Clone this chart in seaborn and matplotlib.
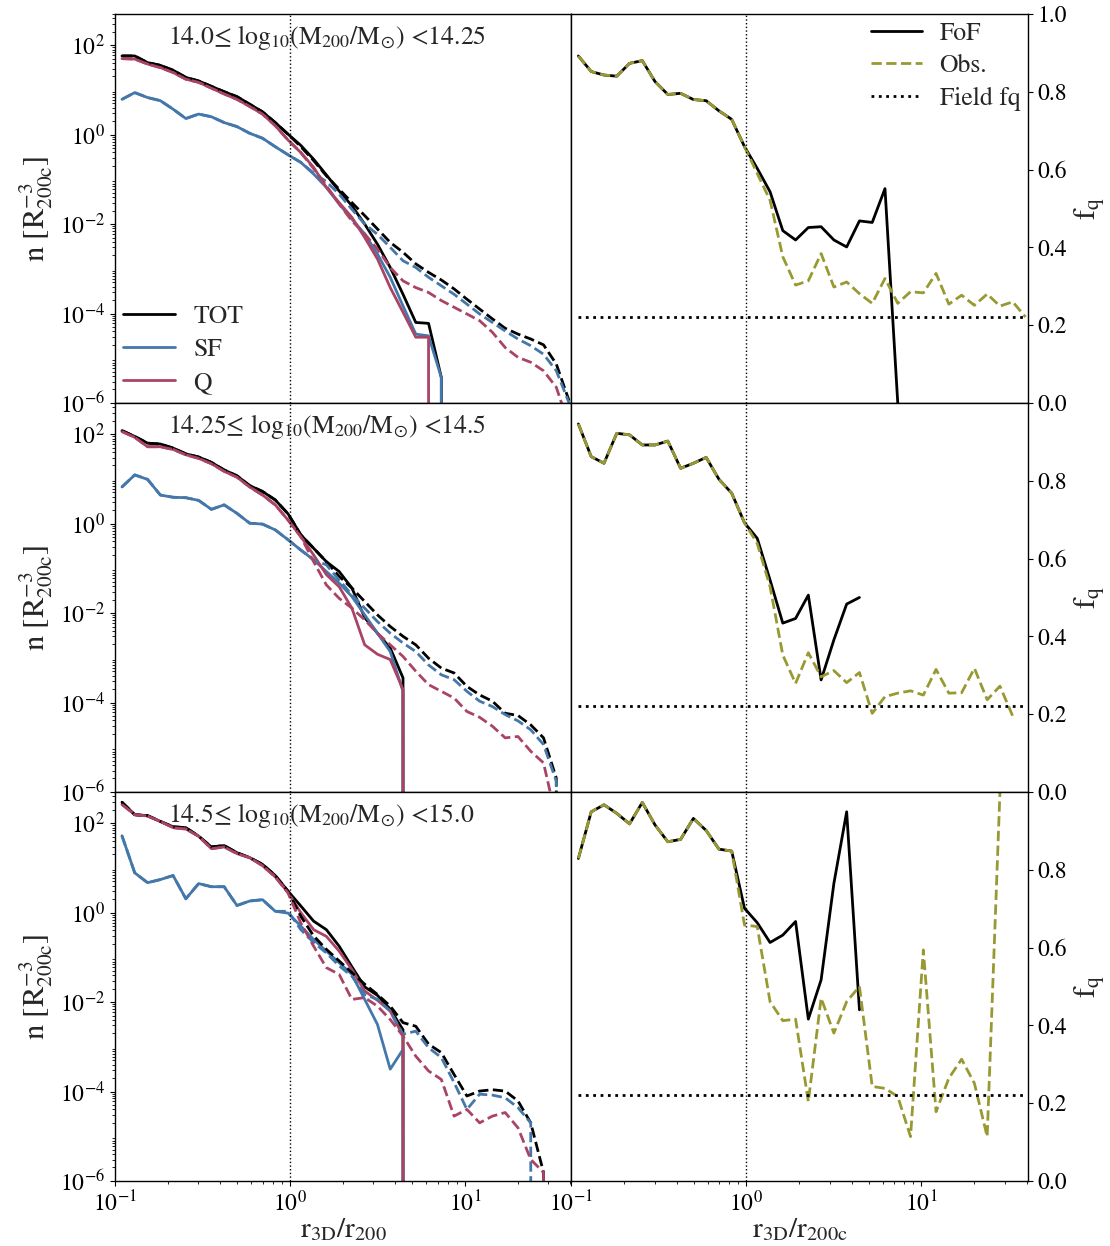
import numpy as np
import pandas as pd
import matplotlib
matplotlib.use("Agg")
import matplotlib.pyplot as plt
import seaborn as sns

Z = -np.inf   # zero density (line drops below the axis)
N = np.nan    # no data

# radial bin centres (r / r200)
r_bins = [0.1096, 0.1297, 0.1535, 0.1816, 0.2148, 0.2541, 0.3006, 0.3556, 0.4207,
          0.4977, 0.5888, 0.6966, 0.8241, 0.9750, 1.153, 1.365, 1.614, 1.910,
          2.259, 2.673, 3.162, 3.741, 4.426, 5.236, 6.194, 7.328, 8.670, 10.26,
          12.13, 14.35, 16.98, 20.09, 23.77, 28.12, 33.27, 39.36]

mass_bins = [r"14.0≤ log$_{10}$(M$_{200}$/M$_{\odot}$) <14.25",
             r"14.25≤ log$_{10}$(M$_{200}$/M$_{\odot}$) <14.5",
             r"14.5≤ log$_{10}$(M$_{200}$/M$_{\odot}$) <15.0"]

# ---- log10 number density, row 1 ----
tot_fof_r1 = [1.76, 1.76, 1.61, 1.55, 1.44, 1.28, 1.20, 1.08, 0.96, 0.85, 0.68, 0.51, 0.27,
              0.01, -0.24, -0.55, -0.90, -1.26, -1.59, -2.00, -2.45, -2.97, -3.57, -4.20,
              -4.22, -5.43, Z, N, N, N, N, N, N, N, N, N]
sf_fof_r1 = [0.79, 0.94, 0.83, 0.76, 0.57, 0.36, 0.46, 0.40, 0.27, 0.18, 0.03, -0.08, -0.27,
             -0.45, -0.62, -0.88, -1.18, -1.55, -1.89, -2.22, -2.67, -3.19, -3.83, -4.46,
             -4.50, -5.43, Z, N, N, N, N, N, N, N, N, N]
q_fof_r1 = [1.70, 1.69, 1.58, 1.50, 1.39, 1.24, 1.17, 1.04, 0.91, 0.79, 0.63, 0.46, 0.20,
            -0.12, -0.40, -0.73, -1.18, -1.52, -1.85, -2.30, -2.78, -3.42, -3.97, -4.53,
            -4.53, Z, N, N, N, N, N, N, N, N, N, N]
tot_obs_r1 = tot_fof_r1[:14] + [-0.27, -0.58, -0.92, -1.22, -1.52, -1.81, -2.11, -2.41, -2.63,
                                -2.89, -3.08, -3.25, -3.45, -3.68, -3.90, -4.12, -4.33, -4.46,
                                -4.57, -4.70, -5.13, -5.95]
sf_obs_r1 = sf_fof_r1[:15] + [-0.86, -1.05, -1.33, -1.67, -2.00, -2.23, -2.52, -2.82, -2.97,
                              -3.19, -3.38, -3.57, -3.79, -4.01, -4.20, -4.39, -4.57, -4.72,
                              -4.91, -5.28, -6.00]
q_obs_r1 = q_fof_r1[:15] + [-0.76, -1.14, -1.55, -1.93, -2.22, -2.56, -2.97, -3.27, -3.42,
                            -3.53, -3.71, -3.86, -4.01, -4.16, -4.42, -4.76, -4.98, -5.09,
                            -5.28, -5.65, -6.50]

# ---- row 2 ----
tot_fof_r2 = [2.08, 1.95, 1.80, 1.78, 1.69, 1.56, 1.49, 1.37, 1.20, 1.07, 0.85, 0.72, 0.53,
              0.22, -0.25, -0.55, -0.85, -1.07, -1.44, -2.10, -2.45, -2.78, -3.45, Z,
              N, N, N, N, N, N, N, N, N, N, N, N]
sf_fof_r2 = [0.82, 1.09, 0.99, 0.64, 0.59, 0.58, 0.52, 0.32, 0.42, 0.23, 0.01, -0.01, -0.14,
             -0.36, -0.59, -0.81, -1.07, -1.33, -1.63, -2.04, -2.45, -2.86, -3.75, Z,
             N, N, N, N, N, N, N, N, N, N, N, N]
q_fof_r2 = [2.06, 1.93, 1.72, 1.72, 1.66, 1.54, 1.46, 1.34, 1.17, 1.04, 0.82, 0.64, 0.42,
            0.08, -0.29, -0.70, -1.14, -1.41, -1.89, -2.71, -2.92, -3.04, -3.71, Z,
            N, N, N, N, N, N, N, N, N, N, N, N]
tot_obs_r2 = tot_fof_r2[:15] + [-0.55, -0.85, -1.18, -1.44, -1.74, -2.04, -2.30, -2.52, -2.71,
                                -3.01, -3.23, -3.34, -3.64, -3.83, -3.97, -4.24, -4.29, -4.50,
                                -4.79, -5.69, Z]
sf_obs_r2 = sf_fof_r2[:16] + [-0.92, -1.26, -1.59, -1.89, -2.19, -2.45, -2.67, -2.86, -3.16,
                              -3.38, -3.49, -3.75, -3.97, -4.09, -4.27, -4.41, -4.61, -4.94,
                              -5.76, Z]
q_obs_r2 = q_fof_r2[:15] + [-0.85, -1.37, -1.67, -1.89, -2.15, -2.45, -2.71, -2.97, -3.30,
                            -3.60, -3.75, -3.90, -4.20, -4.33, -4.53, -4.79, -4.76, -5.09,
                            -5.35, -6.60, N]

# ---- row 3 ----
tot_fof_r3 = [2.47, 2.19, 2.17, 2.04, 1.92, 1.90, 1.71, 1.47, 1.50, 1.34, 1.23, 1.08, 0.83,
              0.48, 0.15, -0.19, -0.38, -0.75, -1.21, -1.66, -1.85, -2.16, -2.62, Z,
              N, N, N, N, N, N, N, N, N, N, N, N]
sf_fof_r3 = [1.72, 0.89, 0.67, 0.74, 0.83, 0.31, 0.65, 0.58, 0.58, 0.16, 0.26, 0.29, 0.03,
             -0.01, -0.30, -0.60, -0.86, -1.12, -1.38, -1.94, -2.50, -3.50, -3.06, Z,
             N, N, N, N, N, N, N, N, N, N, N, N]
q_fof_r3 = [2.42, 2.19, 2.16, 2.04, 1.90, 1.87, 1.71, 1.43, 1.47, 1.32, 1.23, 1.05, 0.80,
            0.45, 0.00, -0.38, -0.53, -0.86, -1.27, -1.75, -1.96, -2.20, -2.76, Z,
            N, N, N, N, N, N, N, N, N, N, N, N]
tot_obs_r3 = tot_fof_r3[:14] + [-0.08, -0.52, -0.82, -1.08, -1.34, -1.60, -1.83, -2.09, -2.46,
                                -2.54, -2.94, -3.13, -3.62, -4.10, -3.99, -3.96, -3.99, -4.21,
                                -4.70, -5.81, Z, N]
sf_obs_r3 = sf_fof_r3[:13] + [0.03, -0.38, -0.67, -0.90, -1.19, -1.42, -1.83, -1.94, -2.20,
                              -2.72, -2.65, -3.02, -3.24, -3.80, -4.40, -4.06, -4.08, -4.14,
                              -4.36, -4.70, Z, N, N]
q_obs_r3 = q_fof_r3[:13] + [0.44, -0.23, -0.75, -1.23, -1.38, -1.94, -1.90, -2.09, -2.39,
                            -2.76, -3.21, -3.54, -3.73, -4.55, -4.40, -4.70, -4.55, -4.47,
                            -4.81, -5.52, -5.81, Z, N]

# ---- quenched fractions ----
fq_fof_r1 = [0.892, 0.852, 0.843, 0.840, 0.873, 0.880, 0.826, 0.793, 0.796, 0.780, 0.777,
             0.751, 0.729, 0.659, 0.603, 0.543, 0.443, 0.419, 0.451, 0.453, 0.419, 0.401,
             0.468, 0.464, 0.551, 0.0, N, N, N, N, N, N, N, N, N, N]
fq_obs_r1 = fq_fof_r1[:14] + [0.590, 0.521, 0.376, 0.303, 0.314, 0.384, 0.298, 0.311, 0.281,
                              0.256, 0.320, 0.256, 0.286, 0.283, 0.333, 0.254, 0.277, 0.251,
                              0.280, 0.249, 0.260, 0.221]
fq_fof_r2 = [0.946, 0.862, 0.845, 0.922, 0.918, 0.892, 0.892, 0.902, 0.832, 0.845, 0.860,
             0.804, 0.768, 0.692, 0.652, 0.545, 0.434, 0.446, 0.506, 0.288, 0.391, 0.483,
             0.500, N, N, N, N, N, N, N, N, N, N, N, N, N]
fq_obs_r2 = fq_fof_r2[:14] + [0.639, 0.528, 0.352, 0.279, 0.358, 0.296, 0.312, 0.281, 0.307,
                              0.202, 0.245, 0.254, 0.260, 0.249, 0.315, 0.254, 0.255, 0.318,
                              0.237, 0.272, 0.195, N]
fq_fof_r3 = [0.829, 0.949, 0.967, 0.945, 0.918, 0.973, 0.915, 0.872, 0.878, 0.932, 0.901,
             0.853, 0.848, 0.701, 0.664, 0.613, 0.632, 0.667, 0.416, 0.517, 0.765, 0.949,
             0.440, N, N, N, N, N, N, N, N, N, N, N, N, N]
fq_obs_r3 = fq_fof_r3[:13] + [0.658, 0.654, 0.461, 0.412, 0.416, 0.204, 0.470, 0.380, 0.461,
                              0.500, 0.243, 0.238, 0.217, 0.114, 0.594, 0.178, 0.264, 0.313,
                              0.251, 0.114, 1.0, N, N]
field_fq = [0.222, 0.222, 0.222]

dens_rows = [
    (tot_fof_r1, sf_fof_r1, q_fof_r1, tot_obs_r1, sf_obs_r1, q_obs_r1),
    (tot_fof_r2, sf_fof_r2, q_fof_r2, tot_obs_r2, sf_obs_r2, q_obs_r2),
    (tot_fof_r3, sf_fof_r3, q_fof_r3, tot_obs_r3, sf_obs_r3, q_obs_r3),
]
fq_rows = [(fq_fof_r1, fq_obs_r1), (fq_fof_r2, fq_obs_r2), (fq_fof_r3, fq_obs_r3)]

C_TOT, C_SF, C_Q, C_OBS = "black", "#4477AA", "#AA4466", "#999933"

sns.set_style("ticks", {"axes.edgecolor": "black", "xtick.color": "black",
                        "ytick.color": "black", "xtick.direction": "out",
                        "ytick.direction": "out"})
plt.rcParams["font.family"] = ["STIXGeneral", "DejaVu Serif"]
plt.rcParams["mathtext.fontset"] = "stix"
plt.rcParams["axes.linewidth"] = 1.0
plt.rcParams["xtick.labelsize"] = 17
plt.rcParams["ytick.labelsize"] = 17

fig, axes = plt.subplots(3, 2, figsize=(11.1, 12.46), dpi=100, sharex=True)
fig.subplots_adjust(left=0.1036, right=0.926, top=0.9888, bottom=0.0522,
                    wspace=0, hspace=0)

r = np.array(r_bins)
LW = 2.0


def line(ax, y, color, ls, label=None):
    df = pd.DataFrame({"r": r, "y": np.asarray(y, float)}).dropna()
    sns.lineplot(data=df, x="r", y="y", ax=ax, color=color, linestyle=ls, lw=LW,
                 estimator=None, sort=False, label=label, legend=False)


for row in range(3):
    axl, axr = axes[row]
    for ax in (axl, axr):
        ax.set_xscale("log")
        ax.set_xlim(0.1, 40.6)
    axl.set_yscale("log")
    axl.set_ylim(1e-6, 500)
    axr.set_ylim(0, 1)

    tf, sf, qf, to, so, qo = [10.0 ** np.asarray(a, float) for a in dens_rows[row]]
    line(axl, tf, C_TOT, "-", "TOT")
    line(axl, sf, C_SF, "-", "SF")
    line(axl, qf, C_Q, "-", "Q")
    line(axl, to, C_TOT, "--")
    line(axl, so, C_SF, "--")
    line(axl, qo, C_Q, "--")
    axl.axvline(1.0, color="black", ls=":", lw=1.0)
    axl.text(0.116, 0.978, mass_bins[row], transform=axl.transAxes,
             ha="left", va="top", fontsize=18.5)
    axl.set_ylabel(r"n [R$_{\rm 200c}^{-3}$]", fontsize=22)
    axl.set_yticks([1e-6, 1e-4, 1e-2, 1e0, 1e2])

    ff, fo = fq_rows[row]
    line(axr, ff, "black", "-", "FoF")
    line(axr, fo, C_OBS, "--", "Obs.")
    field = pd.DataFrame({"r": [r[0], r[-1]], "y": [field_fq[row]] * 2})
    sns.lineplot(data=field, x="r", y="y", ax=axr, color="black", linestyle=":",
                 lw=LW, estimator=None, label="Field fq", legend=False)
    axr.axvline(1.0, color="black", ls=":", lw=1.0)
    axr.yaxis.tick_right()
    axr.yaxis.set_label_position("right")
    axr.set_ylabel(r"f$_{\rm q}$", fontsize=22)
    if row == 0:
        axr.set_yticks([0, 0.2, 0.4, 0.6, 0.8, 1.0])
    else:
        axr.set_yticks([0, 0.2, 0.4, 0.6, 0.8])
    axr.yaxis.set_major_formatter(matplotlib.ticker.FormatStrFormatter("%.1f"))

    for ax in (axl, axr):
        ax.set_xlabel("")
        if row < 2:
            ax.tick_params(axis="x", labelbottom=False)

axes[2, 0].set_xlabel(r"r$_{\rm 3D}$/r$_{200}$", fontsize=21, labelpad=0)
axes[2, 1].set_xlabel(r"r$_{\rm 3D}$/r$_{\rm 200c}$", fontsize=21, labelpad=0)

axes[0, 0].legend(loc="lower left", frameon=False, fontsize=18.5, handlelength=2.05,
                  handletextpad=0.7, labelspacing=0.36, borderpad=0.3,
                  borderaxespad=0.0)
axes[0, 1].legend(loc="upper right", frameon=False, fontsize=18.5, handlelength=1.95,
                  handletextpad=0.7, labelspacing=0.34, borderpad=0.3,
                  borderaxespad=0.0)

fig.savefig("out.png", dpi=100)
